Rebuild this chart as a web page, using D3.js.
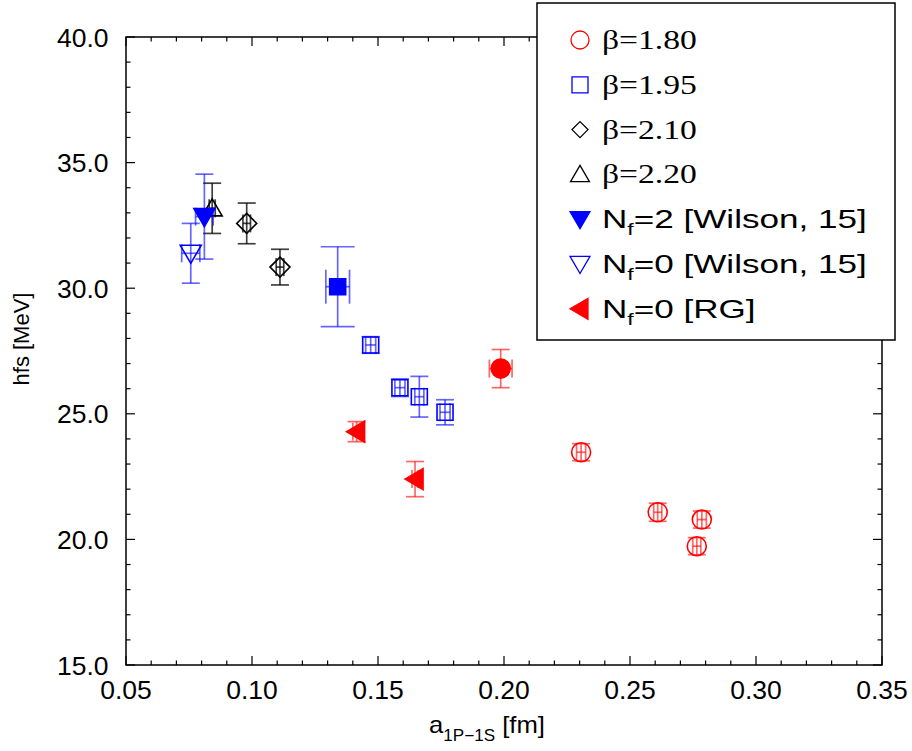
<!DOCTYPE html>
<html><head><meta charset="utf-8">
<script src="https://cdn.jsdelivr.net/npm/d3@7"></script>
<style>body{margin:0;background:#fff}svg{display:block}
.serif{font-family:"Liberation Serif","Times New Roman",Times,"DejaVu Serif",serif}
.sans{font-family:"Liberation Sans",Arial,Helvetica,sans-serif}
</style>
</head><body>
<svg id="c" width="912" height="751"></svg>
<script>
// ---- data ----
const xTicks = [0.05, 0.10, 0.15, 0.20, 0.25, 0.30, 0.35];
const yTicks = [15.0, 20.0, 25.0, 30.0, 35.0, 40.0];

const b180_x = [0.2306, 0.2610, 0.2785, 0.2765];
const b180_y = [23.47, 21.08, 20.79, 19.73];
const b180_xe = [0.0018, 0.0016, 0.0018, 0.0016];
const b180_ye = [0.34, 0.36, 0.34, 0.34];

const b180c_x = [0.1987];
const b180c_y = [26.80];
const b180c_xe = [0.0045];
const b180c_ye = [0.76];

const b195_x = [0.1471, 0.1587, 0.1664, 0.1766];
const b195_y = [27.74, 26.04, 25.68, 25.06];
const b195_xe = [0.0020, 0.0020, 0.0018, 0.0020];
const b195_ye = [0.33, 0.35, 0.81, 0.50];

const b195c_x = [0.1340];
const b195c_y = [30.06];
const b195c_xe = [0.0047];
const b195c_ye = [1.59];

const b210_x = [0.0979, 0.1111];
const b210_y = [32.58, 30.84];
const b210_xe = [0.0015, 0.0015];
const b210_ye = [0.81, 0.71];

const b220_x = [0.0842];
const b220_y = [33.18];
const b220_xe = [0.0012];
const b220_ye = [1.00];

const nf2w_x = [0.0811];
const nf2w_y = [32.85];
const nf2w_xe = [0.0035];
const nf2w_ye = [1.69];

const nf0w_x = [0.0757];
const nf0w_y = [31.39];
const nf0w_xe = [0.0036];
const nf0w_ye = [1.19];

const nf0rg_x = [0.1415, 0.1647];
const nf0rg_y = [24.29, 22.40];
const nf0rg_xe = [0.0015, 0.0012];
const nf0rg_ye = [0.40, 0.70];

const legendLabels = [
  {t:"β=1.80", serif:true},
  {t:"β=1.95", serif:true},
  {t:"β=2.10", serif:true},
  {t:"β=2.20", serif:true},
  {t:"N", sub:"f", rest:"=2 [Wilson, 15]"},
  {t:"N", sub:"f", rest:"=0 [Wilson, 15]"},
  {t:"N", sub:"f", rest:"=0 [RG]"}
];

// ---- layout ----
const svg = d3.select("#c");
const L = 126, R = 882, T = 37, B = 665;
const x = d3.scaleLinear().domain([0.05, 0.35]).range([L, R]);
const y = d3.scaleLinear().domain([15, 40]).range([B, T]);

const RED = "#ff0000", BLUE = "#0000ff", BLACK = "#000000";

const shapes = {
  circle: r => `M${-r},0A${r},${r} 0 1,0 ${r},0A${r},${r} 0 1,0 ${-r},0Z`,
  square: s => `M${-s},${-s}H${s}V${s}H${-s}Z`,
  diamond: s => `M0,${-s}L${s},0L0,${s}L${-s},0Z`,
  triUp: s => `M0,${-s}L${s*1.05},${s*0.8}L${-s*1.05},${s*0.8}Z`,
  triDown: s => `M0,${s}L${s*1.05},${-s*0.8}L${-s*1.05},${-s*0.8}Z`,
  triLeft: s => `M${-s},0L${s*0.8},${-s*1.05}L${s*0.8},${s*1.05}Z`
};

const series = [
  {xs:b180_x, ys:b180_y, xe:b180_xe, ye:b180_ye, color:RED, shape:"circle", size:9.5, fill:false, cap:9},
  {xs:b180c_x, ys:b180c_y, xe:b180c_xe, ye:b180c_ye, color:RED, shape:"circle", size:9.5, fill:true, cap:9},
  {xs:b195_x, ys:b195_y, xe:b195_xe, ye:b195_ye, color:BLUE, shape:"square", size:8, fill:false, cap:9},
  {xs:b195c_x, ys:b195c_y, xe:b195c_xe, ye:b195c_ye, color:BLUE, shape:"square", size:8, fill:true, cap:17},
  {xs:b210_x, ys:b210_y, xe:b210_xe, ye:b210_ye, color:BLACK, shape:"diamond", size:10, fill:false, cap:9},
  {xs:b220_x, ys:b220_y, xe:b220_xe, ye:b220_ye, color:BLACK, shape:"triUp", size:9.5, fill:false, cap:9},
  {xs:nf2w_x, ys:nf2w_y, xe:nf2w_xe, ye:nf2w_ye, color:BLUE, shape:"triDown", size:10, fill:true, cap:9},
  {xs:nf0w_x, ys:nf0w_y, xe:nf0w_xe, ye:nf0w_ye, color:BLUE, shape:"triDown", size:10, fill:false, cap:9},
  {xs:nf0rg_x, ys:nf0rg_y, xe:nf0rg_xe, ye:nf0rg_ye, color:RED, shape:"triLeft", size:10, fill:true, cap:9}
];

// ---- frame & ticks ----
const axes = svg.append("g").attr("stroke", "#000").attr("stroke-width", 1.5);
axes.append("rect").attr("x", L).attr("y", T).attr("width", R - L).attr("height", B - T)
  .attr("fill", "none");

const xMinor = d3.range(0, 31).map(i => 0.05 + i * 0.01);
const yMinor = d3.range(0, 26).map(i => 15 + i);
const isMaj = (v, arr) => arr.some(a => Math.abs(a - v) < 1e-6);

xMinor.forEach(v => {
  const len = isMaj(v, xTicks) ? 9 : 4.5;
  axes.append("line").attr("x1", x(v)).attr("x2", x(v)).attr("y1", B).attr("y2", B - len).attr("stroke-width", 1.2);
  axes.append("line").attr("x1", x(v)).attr("x2", x(v)).attr("y1", T).attr("y2", T + len).attr("stroke-width", 1.2);
});
yMinor.forEach(v => {
  const len = isMaj(v, yTicks) ? 9 : 4.5;
  axes.append("line").attr("y1", y(v)).attr("y2", y(v)).attr("x1", L).attr("x2", L + len).attr("stroke-width", 1.2);
  axes.append("line").attr("y1", y(v)).attr("y2", y(v)).attr("x1", R).attr("x2", R - len).attr("stroke-width", 1.2);
});

// tick labels
svg.append("g").selectAll("text").data(xTicks).join("text").attr("class", "sans")
  .attr("transform", d => `translate(${x(d)},699) scale(1.06,1)`)
  .attr("text-anchor", "middle").attr("font-size", 25)
  .text(d => d.toFixed(2));
svg.append("g").selectAll("text").data(yTicks).join("text").attr("class", "sans")
  .attr("transform", d => `translate(108.5,${y(d) + 9.5}) scale(1.06,1)`)
  .attr("text-anchor", "end").attr("font-size", 25)
  .text(d => d.toFixed(1));

// axis titles
const xt = svg.append("text").attr("class", "sans")
  .attr("transform", `translate(${(L + R) / 2 - 17},733) scale(1.07,1)`)
  .attr("text-anchor", "middle").attr("font-size", 24);
xt.append("tspan").text("a");
xt.append("tspan").attr("font-size", 16).attr("dy", 8).text("1P−1S");
xt.append("tspan").attr("dy", -8).text(" [fm]");

svg.append("text").attr("class", "sans").attr("transform", `translate(29,339) rotate(-90)`)
  .attr("text-anchor", "middle").attr("font-size", 22)
  .text("hfs [MeV]");

// ---- data marks ----
const plot = svg.append("g");
series.forEach(s => {
  const g = plot.append("g");
  s.xs.forEach((xv, i) => {
    const cx = x(xv), cy = y(s.ys[i]);
    const eb = g.append("g").attr("stroke", s.color).attr("stroke-opacity", s.color === BLACK ? 0.75 : 0.6)
      .attr("stroke-width", 1.7).attr("fill", "none");
    const y0 = y(s.ys[i] - s.ye[i]), y1 = y(s.ys[i] + s.ye[i]);
    const x0 = x(xv - s.xe[i]), x1 = x(xv + s.xe[i]);
    eb.append("line").attr("x1", cx).attr("x2", cx).attr("y1", y0).attr("y2", y1);
    eb.append("line").attr("x1", cx - s.cap).attr("x2", cx + s.cap).attr("y1", y0).attr("y2", y0);
    eb.append("line").attr("x1", cx - s.cap).attr("x2", cx + s.cap).attr("y1", y1).attr("y2", y1);
    eb.append("line").attr("x1", x0).attr("x2", x1).attr("y1", cy).attr("y2", cy);
    eb.append("line").attr("x1", x0).attr("x2", x0).attr("y1", cy - s.cap).attr("y2", cy + s.cap);
    eb.append("line").attr("x1", x1).attr("x2", x1).attr("y1", cy - s.cap).attr("y2", cy + s.cap);
    g.append("path").attr("d", shapes[s.shape](s.size))
      .attr("transform", `translate(${cx},${cy})`)
      .attr("fill", s.fill ? s.color : "none")
      .attr("stroke", s.color).attr("stroke-width", 1.6);
  });
});

// ---- legend ----
const lg = svg.append("g");
lg.append("rect").attr("x", 537).attr("y", 3).attr("width", 358).attr("height", 337)
  .attr("fill", "#fff").attr("stroke", "#000").attr("stroke-width", 1.5);
const legendSeries = [series[0], series[2], series[4], series[5], series[6], series[7], series[8]];
const legendSizes = [9, 8, 8, 9, 9.5, 9.5, 10];
legendLabels.forEach((lab, i) => {
  const cy = 40 + i * 44.8;
  const s = legendSeries[i];
  lg.append("path").attr("d", shapes[s.shape](legendSizes[i]))
    .attr("transform", `translate(580,${cy})`)
    .attr("fill", s.fill ? s.color : "none").attr("stroke", s.color).attr("stroke-width", 1.3);
  const t = lg.append("text").attr("class", lab.serif ? "serif" : "sans")
    .attr("transform", `translate(602,${cy + 9}) scale(${lab.serif ? 1.2 : 1.35},1)`)
    .attr("font-size", lab.serif ? 28 : 26);
  if (lab.serif) {
    t.text(lab.t);
  } else {
    t.append("tspan").text(lab.t);
    t.append("tspan").attr("font-size", 17).attr("dy", 7).text(lab.sub);
    t.append("tspan").attr("dy", -7).text(lab.rest);
  }
});
</script>
</body></html>
